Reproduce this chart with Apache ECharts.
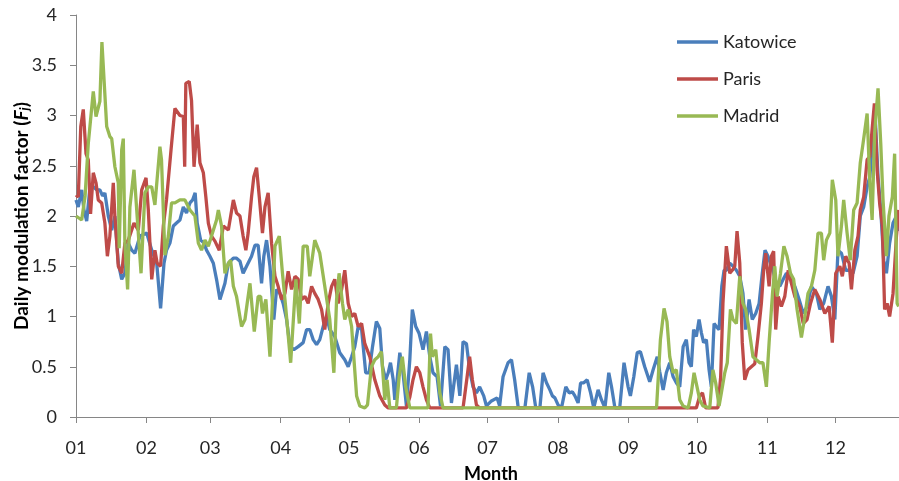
<!DOCTYPE html>
<html>
<head>
<meta charset="utf-8">
<script src="https://cdn.jsdelivr.net/npm/echarts@6/dist/echarts.min.js"></script>
<style>
html,body{margin:0;padding:0;background:#fff;}
#chart{width:899px;height:481px;}
</style>
</head>
<body>
<div id="chart"></div>
<script>
// Day-of-year at which each month starts, and tick labels
var monthStarts = [0, 31, 59, 90, 120, 151, 181, 212, 243, 273, 304, 334];
var monthLabels = ['01','02','03','04','05','06','07','08','09','10','11','12'];
var seriesNames = ['Katowice', 'Paris', 'Madrid'];

// [day of year, daily modulation factor]
var katowice = [[0,2.16],[1,2.09],[2.5,2.26],[3.5,2.06],[4.7,1.95],[6.2,2.3],[7.6,2.29],[9.1,2.26],[10.5,2.26],[11.7,2.2],[12.7,2.23],[14.2,2.0],[15.7,1.86],[17.1,2.0],[18.6,1.53],[20.1,1.37],[21.5,1.43],[23,1.73],[24.5,1.66],[25.9,1.63],[28.1,1.8],[31.1,1.83],[33.3,1.66],[35.5,1.53],[37.2,1.08],[38.7,1.53],[39.8,1.66],[41.3,1.73],[42.8,1.9],[44.2,1.93],[45.7,1.96],[47.2,2.09],[48.6,2.03],[50.1,2.13],[51.3,2.16],[52.4,2.23],[53.3,1.93],[54.8,1.76],[56.3,1.73],[57.4,1.66],[58.9,1.6],[60.4,1.53],[61.8,1.37],[63.3,1.17],[65.5,1.33],[67,1.53],[69.2,1.58],[70.6,1.58],[72.1,1.55],[73.5,1.43],[75,1.5],[77.2,1.6],[78.7,1.71],[80.1,1.71],[81.6,1.33],[82.6,1.6],[83.8,1.76],[85.3,1.5],[87,0.97],[88.2,1.27],[89.7,1.23],[91.1,1.13],[92.6,0.97],[94.1,0.7],[95.8,0.67],[97.7,0.7],[99.9,0.74],[101.4,0.87],[102.8,0.87],[104.3,0.77],[105.8,0.72],[107.2,0.77],[108.7,0.9],[110.2,1.0],[111.6,0.87],[113.8,0.8],[116,0.64],[118.2,0.57],[119.7,0.5],[121.2,0.6],[122.6,0.7],[124.1,0.9],[125.6,0.87],[127.4,0.44],[128.9,0.44],[130.4,0.7],[132.1,0.95],[133.6,0.88],[134.8,0.5],[136.2,0.37],[137.3,0.44],[138.3,0.54],[139.5,0.37],[140.2,0.17],[141.2,0.37],[142.4,0.64],[143.8,0.44],[145.3,0.11],[146.8,0.57],[147.9,1.07],[149.4,0.9],[150.9,0.83],[152.6,0.67],[154.1,0.85],[155.6,0.6],[157,0.44],[158.8,0.4],[160.3,0.11],[162.2,0.7],[163.6,0.67],[165.1,0.14],[167.3,0.52],[168.8,0.21],[170.2,0.75],[171.7,0.73],[173.1,0.47],[174.6,0.3],[176.1,0.24],[177.5,0.3],[179.3,0.21],[180.5,0.11],[182.7,0.16],[185.2,0.19],[186.3,0.11],[187.8,0.4],[190,0.54],[191.5,0.57],[192.9,0.37],[194.5,0.09],[197.4,0.09],[199.3,0.44],[200.8,0.3],[202.2,0.09],[204,0.09],[205.4,0.44],[206.9,0.34],[208.4,0.27],[209.5,0.21],[210.6,0.19],[212,0.12],[213.5,0.09],[215.4,0.3],[216.9,0.24],[218.3,0.25],[219.4,0.21],[220.8,0.14],[221.9,0.34],[223.3,0.34],[224.8,0.37],[226.3,0.24],[227.7,0.09],[229.6,0.27],[231.1,0.17],[232.6,0.09],[234.3,0.44],[235.5,0.3],[237,0.09],[239.1,0.09],[241,0.54],[242.8,0.3],[243.8,0.21],[245.3,0.4],[246.8,0.64],[248.2,0.65],[250.1,0.5],[252.3,0.35],[253.8,0.47],[255.6,0.6],[256.7,0.45],[258.2,0.27],[259.6,0.44],[261.1,0.54],[262.6,0.4],[264,0.34],[265.5,0.3],[267,0.7],[268.4,0.77],[269.6,0.54],[270.6,0.5],[271.6,0.87],[272.8,0.8],[274,0.97],[275,0.84],[276,0.74],[277.2,0.77],[278.4,0.47],[279.4,0.3],[280.6,0.93],[281.6,0.9],[282.8,0.87],[284,1.3],[285,1.46],[286,1.46],[287.5,1.53],[289,1.5],[290.4,1.46],[291.9,1.4],[293.3,1.23],[294.5,0.87],[296,1.17],[297.4,0.97],[298.9,1.03],[300.4,1.13],[301.8,1.43],[303,1.66],[304.3,1.6],[305.8,1.5],[306.6,1.45],[308,1.33],[309.5,1.3],[311,1.37],[312.4,1.43],[314.2,1.4],[316.1,1.3],[318,1.17],[319.8,1.03],[321.5,1.1],[323.4,1.3],[325.6,1.23],[327.1,1.07],[328.8,1.13],[330.7,1.3],[332.2,1.2],[333.7,0.97],[335.1,1.66],[336.6,1.63],[338.5,1.46],[340.3,1.46],[341.7,1.43],[343.5,1.6],[344.9,2.0],[346.4,2.09],[347.9,2.29],[349.1,2.39],[350.2,2.72],[351.4,3.02],[352.7,2.39],[353.9,2.06],[355.2,1.56],[356.4,1.43],[357.8,1.73],[359.3,1.93],[360.8,2.0],[361.8,1.85]];

var paris = [[0,2.21],[1,2.19],[2.1,2.89],[3.2,3.06],[4.4,2.62],[5.4,2.56],[6.4,2.02],[7.6,2.43],[8.8,2.33],[9.8,2.16],[11.3,2.13],[12.7,1.93],[13.8,1.6],[14.9,1.8],[16.4,2.33],[17.1,2.0],[18.6,1.5],[20.1,1.43],[21.5,1.73],[23,1.76],[24.5,1.86],[25.5,1.93],[27.4,1.86],[28.9,2.26],[30.8,2.38],[31.8,2.06],[33.3,1.37],[34.7,1.66],[35.7,1.53],[37.2,1.5],[38.4,1.9],[39.8,2.16],[41.8,2.66],[43.5,3.07],[45.7,3.0],[47.2,2.99],[47.8,2.49],[48.3,3.32],[49.8,3.34],[50.8,3.15],[51.9,2.49],[53.3,2.91],[54.5,2.53],[56,2.43],[57.1,2.19],[58.2,1.93],[59.6,1.8],[61.1,1.75],[63,1.66],[64.8,1.9],[67,1.86],[69.2,2.16],[70.6,2.03],[72.1,2.0],[73.5,1.8],[74.7,1.66],[75.7,1.83],[77.2,2.19],[78.2,2.39],[79.4,2.48],[80.6,2.19],[82,1.83],[83.1,2.09],[84.5,2.23],[86,1.73],[87.5,1.4],[88.9,1.3],[90.4,1.17],[91.9,1.23],[93.3,1.45],[94.8,1.27],[96.3,1.4],[97.7,1.37],[99.2,1.17],[100.7,1.2],[102.1,1.13],[103.6,1.3],[105,1.23],[106.5,1.17],[108,1.07],[109.4,0.87],[110.9,1.13],[112.4,1.3],[113.8,1.37],[115.3,1.13],[116.8,1.27],[118.2,1.46],[119.7,1.13],[121.2,1.0],[122.6,1.03],[124.1,0.9],[125.6,0.93],[127,0.73],[129.2,0.6],[131.4,0.37],[133.6,0.21],[135.8,0.12],[137.3,0.09],[145.3,0.09],[146.8,0.2],[148.2,0.37],[149.7,0.5],[151.2,0.44],[152.6,0.3],[154.1,0.17],[155.6,0.09],[170.2,0.09],[172,0.4],[173.1,0.6],[174.3,0.37],[176.1,0.12],[177.5,0.09],[272.8,0.09],[274.3,0.21],[275.5,0.24],[276.9,0.09],[282.3,0.09],[283.5,0.4],[284.5,1.13],[286,1.7],[287.5,1.43],[288.6,1.46],[289.7,1.5],[290.7,1.85],[291.9,1.53],[293,0.74],[294.1,0.37],[295.5,0.47],[297,0.5],[298.5,0.53],[299.9,0.8],[301.4,1.13],[302.4,1.46],[303.3,1.63],[304.8,1.3],[305.8,1.6],[306.8,1.65],[307.7,0.87],[308.8,1.2],[310.2,1.1],[311.7,1.2],[313.2,1.46],[314.6,1.33],[316.1,1.2],[318.3,1.1],[319.8,0.93],[321.5,0.97],[323,1.13],[324.9,1.27],[327.1,1.17],[329.3,1.03],[331.2,1.1],[332.6,0.74],[334.1,1.43],[335.9,1.5],[337,1.4],[338.5,1.6],[340,1.53],[341,1.27],[342.5,1.66],[343.9,1.8],[344.9,2.06],[346.4,2.19],[347.9,2.56],[349.1,2.59],[350.2,2.89],[351.1,3.12],[352.3,2.46],[353.4,2.13],[354.6,1.9],[355.6,1.07],[356.7,1.13],[357.8,1.0],[359.3,1.23],[360.8,1.8],[361.8,2.06]];

var madrid = [[0,2.0],[2.5,1.96],[4,2.2],[5.4,2.72],[7.6,3.24],[8.8,2.99],[10.5,3.14],[11.4,3.73],[13.5,2.89],[14.9,2.79],[15.7,2.77],[17.1,2.49],[18.6,2.33],[19,1.68],[20.1,2.66],[20.8,2.77],[21.5,1.73],[22.7,1.27],[23.7,2.09],[25.5,2.46],[26.7,2.06],[28.6,1.43],[30.3,2.23],[31.8,2.29],[33.3,2.29],[34.7,2.11],[36.9,2.69],[37.6,2.56],[39.1,1.61],[40.6,1.8],[42,2.13],[43.5,2.13],[45.7,2.16],[47.9,2.16],[50.1,2.06],[52.3,2.0],[53.8,1.73],[55.2,1.66],[56.7,1.76],[58.2,1.7],[59.6,1.8],[61.8,1.96],[62.6,2.06],[64,1.9],[65.5,1.43],[67,1.53],[68,1.56],[69.2,1.3],[70.6,1.2],[72.8,0.9],[74.3,0.97],[76.5,1.33],[78.4,0.85],[80.1,1.2],[81.2,1.2],[82,1.03],[83.5,1.17],[85.3,0.6],[87.5,1.7],[89.4,1.8],[90.8,1.43],[92.3,1.07],[94.4,0.54],[96.7,1.37],[98.2,0.93],[99.9,1.7],[101.7,1.7],[102.8,1.4],[105,1.76],[107.2,1.63],[109.4,1.3],[111.6,0.97],[113.4,0.44],[114.6,1.17],[115.7,1.43],[117.2,1.13],[118.2,0.97],[119.7,1.07],[121.2,0.9],[123.4,0.21],[124.8,0.11],[127,0.09],[128.2,0.12],[129.9,0.5],[131.4,0.57],[132.9,0.6],[134.3,0.65],[135.8,0.17],[136.8,0.37],[138,0.09],[140.9,0.09],[142.1,0.4],[143.5,0.6],[145,0.3],[146.8,0.09],[154.8,0.09],[155.9,0.83],[156.7,0.6],[158.2,0.67],[160,0.24],[161.4,0.09],[255.3,0.09],[257,0.77],[258.6,1.08],[259.9,0.95],[261.1,0.6],[262.6,0.44],[264,0.47],[265.5,0.17],[267,0.11],[269.2,0.09],[270.6,0.24],[271.8,0.44],[273.1,0.3],[274.3,0.17],[275.7,0.11],[278.7,0.09],[280.1,0.47],[281.3,0.34],[282.8,0.11],[283.8,0.24],[285.3,0.44],[286.4,0.54],[287.8,1.07],[288.9,0.97],[290.4,0.93],[291.9,1.4],[293.3,1.13],[294.5,1.07],[296,0.87],[297.7,0.6],[299.2,0.57],[300.7,0.54],[302.1,0.54],[303.6,0.3],[304.8,0.74],[306.3,1.23],[307.3,1.5],[308.3,1.2],[309.8,1.43],[311.3,1.7],[312.7,1.6],[314.2,1.43],[315.6,1.37],[317.1,1.07],[319,0.79],[320.5,1.0],[321.9,1.23],[323.4,1.3],[324.9,1.46],[326.3,1.83],[327.8,1.83],[328.8,1.56],[330,1.76],[331.5,1.83],[332.6,2.36],[334.1,2.16],[335.1,1.6],[336.6,1.9],[337.6,2.16],[339.1,1.83],[340.5,1.56],[342,2.06],[343.5,2.13],[344.9,2.53],[346.1,2.72],[347.9,3.02],[349.1,2.33],[350.1,1.96],[351.2,2.82],[352.7,3.27],[353.9,2.72],[354.9,2.16],[356.4,1.6],[357.5,2.0],[359,2.19],[360,2.62],[361.1,1.13],[361.8,1.1]];

var colors = ['#4A7EBB', '#BE4B48', '#98B954'];
var FONT = 'Lato';

var chart = echarts.init(document.getElementById('chart'), null, {renderer: 'canvas'});
function lineSeries(name, data, color) {
  return {
    name: name, type: 'line', data: data, symbol: 'none', smooth: false,
    lineStyle: {color: color, width: 3.3}, itemStyle: {color: color},
    animation: false, clip: true
  };
}
chart.setOption({
  animation: false,
  backgroundColor: '#ffffff',
  grid: {left: 76, right: -7, top: 15, bottom: 64, containLabel: false, outerBoundsMode: 'none'},
  legend: {
    orient: 'vertical', left: 677, top: 33, padding: 0, icon: 'rect',
    itemWidth: 41, itemHeight: 3.5, itemGap: 19,
    data: seriesNames,
    textStyle: {fontFamily: FONT, fontSize: 18, color: '#262626'}
  },
  xAxis: {
    type: 'value', min: 0, max: 365,
    name: 'Month', nameLocation: 'middle', nameGap: 48, nameMoveOverlap: false,
    nameTextStyle: {fontFamily: FONT, fontSize: 18, fontWeight: 'bold', color: '#000'},
    axisLine: {show: true, onZero: false, lineStyle: {color: '#868686', width: 1}},
    axisTick: {show: true, length: 6, customValues: monthStarts, lineStyle: {color: '#868686'}},
    axisLabel: {
      customValues: monthStarts, margin: 22,
      fontFamily: FONT, fontSize: 18, color: '#262626',
      formatter: function (v) { var i = monthStarts.indexOf(v); return i >= 0 ? monthLabels[i] : ''; }
    },
    splitLine: {show: false}
  },
  yAxis: {
    type: 'value', min: 0, max: 4, interval: 0.5,
    name: '{b|Daily modulation factor (}{i|F}{s|j}{b|)}',
    nameLocation: 'middle', nameGap: 45, nameRotate: 90, nameMoveOverlap: false,
    nameTextStyle: {
      fontFamily: FONT, fontSize: 19, fontWeight: 'bold', color: '#000',
      rich: {
        b: {fontFamily: FONT, fontSize: 19, fontWeight: 'bold', color: '#000'},
        i: {fontFamily: FONT, fontSize: 19, fontWeight: 'bold', fontStyle: 'italic', color: '#000'},
        s: {fontFamily: FONT, fontSize: 13, fontWeight: 'bold', fontStyle: 'italic', color: '#000', verticalAlign: 'bottom', padding: [6,0,0,0]}
      }
    },
    axisLine: {show: true, lineStyle: {color: '#868686', width: 1}},
    axisTick: {show: true, length: 6, lineStyle: {color: '#868686'}},
    axisLabel: {margin: 19, fontFamily: FONT, fontSize: 18, color: '#262626'},
    splitLine: {show: false}
  },
  series: [
    lineSeries(seriesNames[0], katowice, colors[0]),
    lineSeries(seriesNames[1], paris, colors[1]),
    lineSeries(seriesNames[2], madrid, colors[2])
  ]
});
</script>
</body>
</html>
